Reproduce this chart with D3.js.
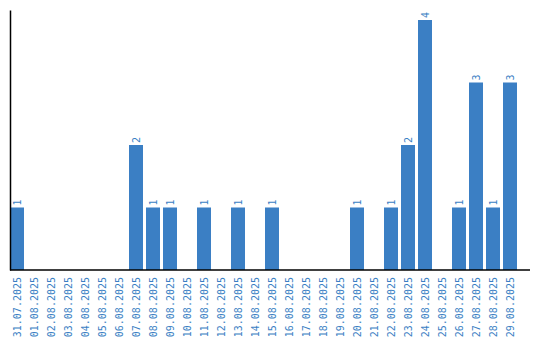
<!DOCTYPE html>
<html>
<head>
<meta charset="utf-8">
<script src="https://cdn.jsdelivr.net/npm/d3@7"></script>
<style>
  body { margin: 0; background: #fff; }
  svg { display: block; }
  text { font-family: "DejaVu Sans Mono", monospace; font-size: 10px; fill: #3b7fc4; }
</style>
</head>
<body>
<script>
// dates shown on the x axis
const dates = ['31.07.2025', '01.08.2025', '02.08.2025', '03.08.2025', '04.08.2025', '05.08.2025',
    '06.08.2025', '07.08.2025', '08.08.2025', '09.08.2025', '10.08.2025', '11.08.2025', '12.08.2025',
    '13.08.2025', '14.08.2025', '15.08.2025', '16.08.2025', '17.08.2025', '18.08.2025', '19.08.2025',
    '20.08.2025', '21.08.2025', '22.08.2025', '23.08.2025', '24.08.2025', '25.08.2025', '26.08.2025',
    '27.08.2025', '28.08.2025', '29.08.2025']
// count per day
const counts = [1, 0, 0, 0, 0, 0, 0, 2, 1, 1, 0, 1, 0, 1, 0, 1, 0, 0, 0, 0, 1, 0, 1, 2, 4, 0, 1, 3, 1, 3]

let width = 540,
    height = 340,
    left = 10,
    bottom = 270

let svg = d3.select("body")
    .append("svg")
    .attr("width", width)
    .attr("height", height)

let x = d3.scaleBand()
    .domain(dates)
    .range([left, 520])
    .paddingInner(3 / 17)
    .paddingOuter(3 / 34)
    .align(0)

// top of the axis sits a little above the tallest bar
let y = d3.scaleLinear()
    .domain([0, 4.16])
    .range([bottom, 10])

let data = dates.map((d, i) => ({ date: d, value: counts[i] }))

// bars
svg.selectAll("rect.bar")
    .data(data.filter(d => d.value > 0))
    .enter()
    .append("rect")
    .attr("class", "bar")
    .attr("x", d => x(d.date))
    .attr("y", d => y(d.value))
    .attr("width", x.bandwidth())
    .attr("height", d => y(0) - y(d.value))
    .attr("fill", "#3b7fc4")

// value labels, rotated like the dates
svg.selectAll("text.val")
    .data(data.filter(d => d.value > 0))
    .enter()
    .append("text")
    .attr("class", "val")
    .attr("transform", d => "translate(" + (x(d.date) + x.bandwidth() / 2) + "," + (y(d.value) - 2) + ") rotate(-90)")
    .attr("dy", "0.35em")
    .attr("text-anchor", "start")
    .text(d => d.value)

// x axis
let xAxis = svg.append("g")
    .attr("transform", "translate(0," + bottom + ")")
    .call(d3.axisBottom(x).tickSize(0).tickPadding(0))

xAxis.select(".domain").remove()
xAxis.append("line")
    .attr("x1", left).attr("x2", 530)
    .attr("y1", 0).attr("y2", 0)
    .attr("stroke", "#000")
    .attr("stroke-width", 1.5)

xAxis.selectAll(".tick text")
    .attr("transform", "translate(0,7) rotate(-90)")
    .attr("dy", "0.35em")
    .attr("x", 0)
    .attr("y", 0)
    .attr("text-anchor", "end")
    .style("font-family", "DejaVu Sans Mono, monospace")
    .style("font-size", "10px")
    .attr("fill", "#3b7fc4")

// y axis, line only
let yAxis = svg.append("g")
    .attr("transform", "translate(" + left + ",0)")
    .call(d3.axisLeft(y).ticks(0).tickSizeOuter(0))

yAxis.select(".domain")
    .attr("stroke", "#000")
    .attr("stroke-width", 1.5)
</script>
</body>
</html>
